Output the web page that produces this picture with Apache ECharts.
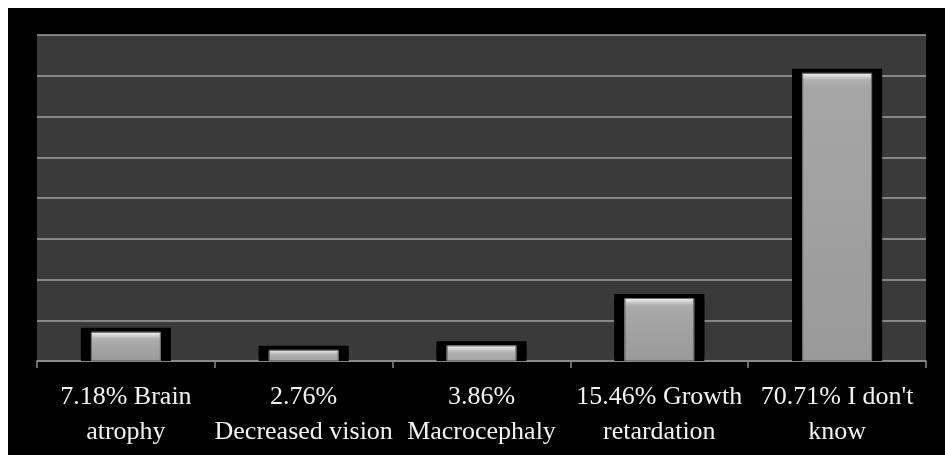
<!DOCTYPE html>
<html>
<head>
<meta charset="utf-8">
<script src="https://cdn.jsdelivr.net/npm/echarts@6/dist/echarts.min.js"></script>
<style>
html,body{margin:0;padding:0;background:#fff;}
#c{position:absolute;left:8px;top:8px;width:937px;height:447px;background:#000;}
</style>
</head>
<body>
<div id="c"></div>
<script>
const categories = ["7.18% Brain\natrophy", "2.76%\nDecreased vision", "3.86%\nMacrocephaly", "15.46% Growth\nretardation", "70.71% I don't\nknow"];
const values = [7.18, 2.76, 3.86, 15.46, 70.71];
const yMax = 80;
const yInterval = 10;

const chart = echarts.init(document.getElementById('c'), null, {renderer: 'canvas'});
function baseOption(frontData) {
  return {
    backgroundColor: '#000',
    animation: false,
    grid: {left: 29, right: 19, top: 27, bottom: 94, show: true, backgroundColor: '#3a3a3a', borderWidth: 0},
    xAxis: [{
      type: 'category',
      data: categories,
      axisLine: {show: true, lineStyle: {color: '#8c8c8c', width: 1.5}},
      axisTick: {show: true, length: 7, lineStyle: {color: '#8c8c8c', width: 1.5}},
      axisLabel: {interval: 0, color: '#f2f2f2', fontFamily: '"Liberation Serif", "Times New Roman", serif', fontSize: 26, lineHeight: 35, margin: 19}
    }, {
      type: 'category', data: categories, show: false
    }],
    yAxis: {
      type: 'value', min: 0, max: yMax, interval: yInterval,
      axisLabel: {show: false}, axisLine: {show: false}, axisTick: {show: false},
      splitLine: {show: true, lineStyle: {color: '#a0a0a0', width: 1.5}}
    },
    series: [
      {type: 'bar', xAxisIndex: 0, data: values, barWidth: 90, itemStyle: {color: '#000', shadowColor: '#000', shadowBlur: 0, shadowOffsetY: -4}, z: 1},
      {type: 'bar', xAxisIndex: 1, data: frontData, barWidth: 70, itemStyle: {color: '#a4a4a4', borderColor: '#707070', borderWidth: 1}, z: 2}
    ]
  };
}
chart.setOption(baseOption(values));
const y0 = chart.convertToPixel({yAxisIndex: 0}, 0);
const frontData = values.map(v => {
  const hpx = Math.max(1, y0 - chart.convertToPixel({yAxisIndex: 0}, v));
  const h = Math.min(0.45, 7 / hpx);
  return {
    value: v,
    itemStyle: {
      color: {type: 'linear', x: 0, y: 0, x2: 0, y2: 1, colorStops: [
        {offset: 0, color: '#f4f4f4'},
        {offset: h * 0.5, color: '#d4d4d4'},
        {offset: h, color: '#b0b0b0'},
        {offset: Math.min(1, h * 2), color: '#a6a6a6'},
        {offset: 1, color: '#9a9a9a'}
      ]}
    }
  };
});
chart.setOption(baseOption(frontData));
</script>
</body>
</html>
